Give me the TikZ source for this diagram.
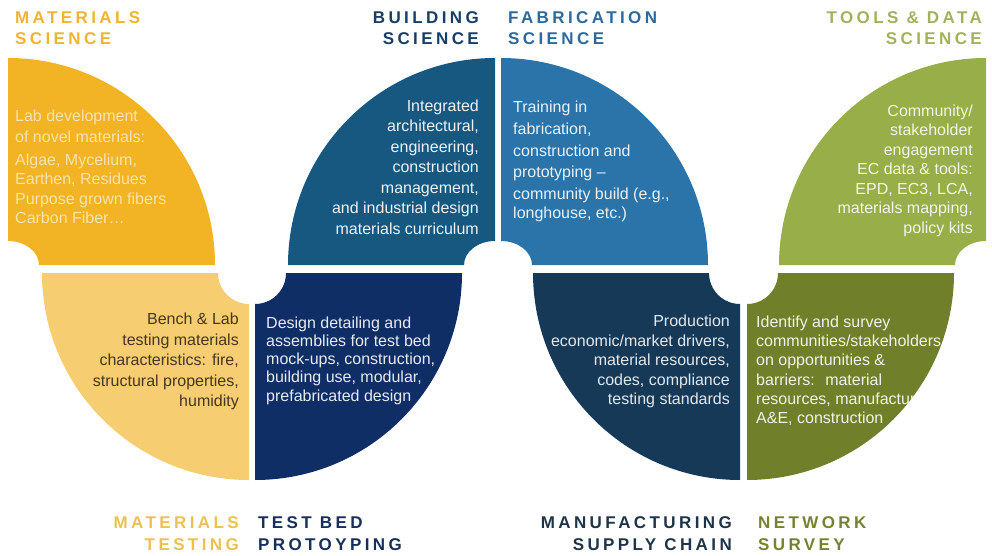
\documentclass[tikz,border=0pt]{standalone}
\usepackage{fontspec}
\setmainfont{Liberation Sans}
\newfontfamily\headfont[LetterSpace=20]{Liberation Sans}

\definecolor{msyellow}{RGB}{242,180,36}
\definecolor{mtyellow}{RGB}{246,205,112}
\definecolor{bsblue}{RGB}{22,88,128}
\definecolor{tbnavy}{RGB}{16,46,102}
\definecolor{fsblue}{RGB}{42,116,170}
\definecolor{mcslate}{RGB}{22,57,88}
\definecolor{tdgreen}{RGB}{152,174,72}
\definecolor{nsolive}{RGB}{112,128,42}

\definecolor{mshead}{RGB}{238,180,50}
\definecolor{bshead}{RGB}{25,62,102}
\definecolor{fshead}{RGB}{45,105,155}
\definecolor{tdhead}{RGB}{160,178,95}
\definecolor{mthead}{RGB}{236,192,82}
\definecolor{tbhead}{RGB}{22,48,90}
\definecolor{mchead}{RGB}{30,52,72}
\definecolor{nshead}{RGB}{118,130,50}

\begin{document}
\begin{tikzpicture}
[x=1pt,y=1pt,
head/.style={inner sep=0pt,font=\headfont\bfseries\fontsize{17}{21.5}\selectfont},
body/.style={inner sep=0pt}]
\useasboundingbox (0,0) rectangle (992,555);

\fill[msyellow] (39,290) -- (215,290) arc[start angle=0,end angle=90,radius=207] -- (8,314) arc[start angle=90,end angle=0,x radius=31,y radius=24] -- cycle;
\fill[bsblue] (495,314) -- (495,497) arc[start angle=90,end angle=180,radius=207] -- (464,290) arc[start angle=180,end angle=90,x radius=31,y radius=24] -- cycle;
\fill[fsblue] (532,290) -- (708,290) arc[start angle=0,end angle=90,radius=207] -- (501,314) arc[start angle=90,end angle=0,x radius=31,y radius=24] -- cycle;
\fill[tdgreen] (986,314) -- (986,497) arc[start angle=90,end angle=180,radius=207] -- (955,290) arc[start angle=180,end angle=90,x radius=31,y radius=24] -- cycle;

\fill[mtyellow] (218,282) -- (42,282) arc[start angle=180,end angle=270,radius=207] -- (249,251) arc[start angle=270,end angle=180,radius=31] -- cycle;
\fill[tbnavy] (255,251) -- (255,75) arc[start angle=270,end angle=360,radius=207] -- (286,282) arc[start angle=0,end angle=-90,radius=31] -- cycle;
\fill[mcslate] (709,282) -- (533,282) arc[start angle=180,end angle=270,radius=207] -- (740,251) arc[start angle=270,end angle=180,radius=31] -- cycle;
\fill[nsolive] (747,251) -- (747,75) arc[start angle=270,end angle=360,radius=207] -- (778,282) arc[start angle=0,end angle=-90,radius=31] -- cycle;

\node[body,anchor=base west,align=left,text=white!62!msyellow,font=\fontsize{16}{19.5}\selectfont] (msText) at (15,331)
{Lab development\\[1.5pt] of novel materials:\\[3pt] Algae, Mycelium,\\ Earthen, Residues\\ Purpose grown fibers\\ Carbon Fiber…};
\node[body,anchor=base east,align=right,text=white!92!bsblue,font=\fontsize{16}{20.5}\selectfont] (bsText) at (479,320.5)
{Integrated\\ architectural,\\ engineering,\\ construction\\ management,\\ and industrial design\\ materials curriculum};
\node[body,anchor=base west,align=left,text=white!90!fsblue,font=\fontsize{16}{21.8}\selectfont] (fsText) at (513,337)
{Training in\\ fabrication,\\ construction and\\ prototyping --\\ community build (e.g.,\\[-3.5pt] longhouse, etc.)};
\node[body,anchor=base east,align=right,text=white!88!tdgreen,font=\fontsize{16}{19.5}\selectfont] (tdText) at (973,321.5)
{Community/\\ stakeholder\\ engagement\\ EC data \& tools:\\ EPD, EC3, LCA,\\ materials mapping,\\ policy kits};

\node[body,anchor=base east,align=right,text={rgb,255:red,70;green,55;blue,30},font=\fontsize{16}{20.5}\selectfont] (mtText) at (239,148.5)
{Bench \& Lab\\ testing materials\\ characteristics: fire,\\ structural properties,\\ humidity};
\node[body,anchor=base west,align=left,text=white!90!tbnavy,font=\fontsize{16}{18.3}\selectfont] (tbText) at (266,153.8)
{Design detailing and\\ assemblies for test bed\\ mock-ups, construction,\\ building use, modular,\\ prefabricated design};
\node[body,anchor=base east,align=right,text=white!88!mcslate,font=\fontsize{16}{19.5}\selectfont] (mcText) at (730,150.5)
{Production\\ economic/market drivers,\\ material resources,\\ codes, compliance\\ testing standards};
\begin{scope}
\clip (747,251) -- (747,75) arc[start angle=270,end angle=360,radius=207] -- (778,282) arc[start angle=0,end angle=-90,radius=31] -- cycle;
\node[body,anchor=base west,align=left,text=white!90!nsolive,font=\fontsize{16}{19.2}\selectfont] (nsText) at (756,131.5)
{Identify and survey\\ communities/stakeholders\\ on opportunities \&\\ barriers:~ material\\ resources, manufacturing,\\ A\&E, construction};
\end{scope}

\node[head,anchor=base west,align=left,text=mshead] (msHead) at (15,510) {MATERIALS\\ SCIENCE};
\node[head,anchor=base east,align=right,text=bshead] (bsHead) at (479,510) {BUILDING\\ SCIENCE};
\node[head,anchor=base west,align=left,text=fshead] (fsHead) at (508,510) {FABRICATION\\ SCIENCE};
\node[head,anchor=base east,align=right,text=tdhead] (tdHead) at (982,510) {TOOLS \& DATA\\ SCIENCE};
\node[head,anchor=base east,align=right,text=mthead] (mtHead) at (239,5) {MATERIALS\\ TESTING};
\node[head,anchor=base west,align=left,text=tbhead] (tbHead) at (258,5) {TEST BED\\ PROTOYPING};
\node[head,anchor=base east,align=right,text=mchead] (mcHead) at (732,5) {MANUFACTURING\\ SUPPLY CHAIN};
\node[head,anchor=base west,align=left,text=nshead] (nsHead) at (758,5) {NETWORK\\ SURVEY};
\end{tikzpicture}
\end{document}
